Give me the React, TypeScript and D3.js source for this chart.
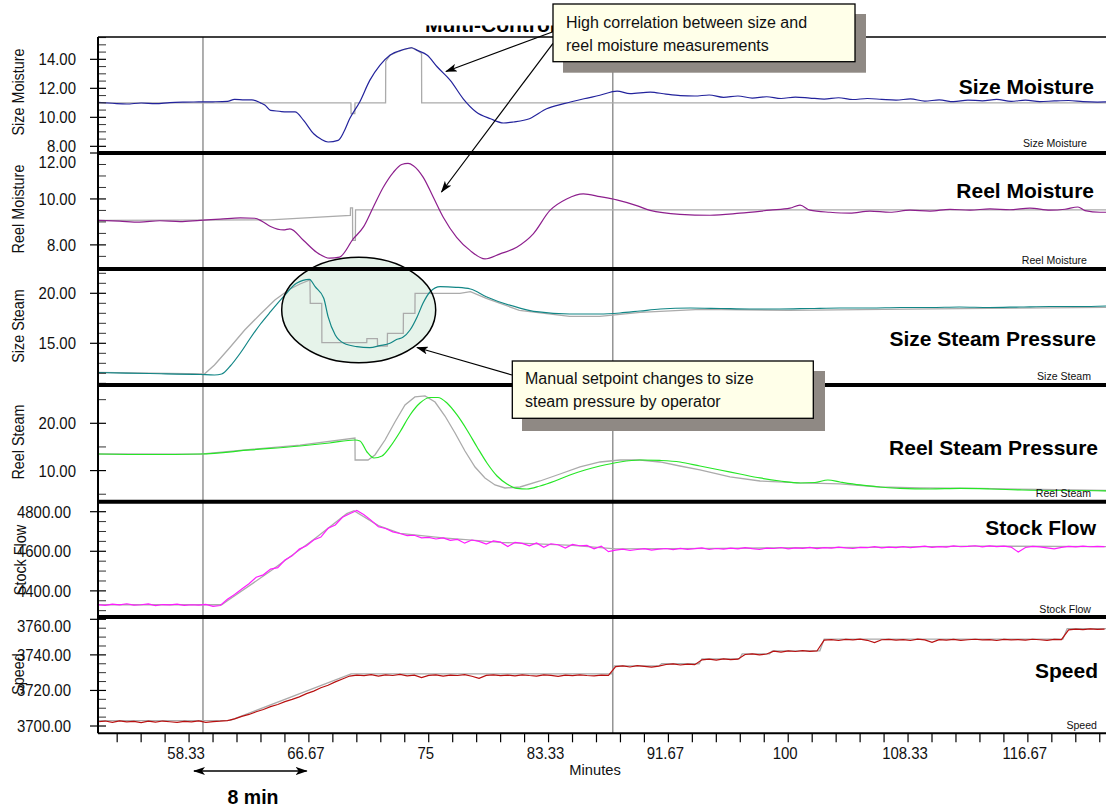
import React from "react";
import * as d3 from "d3";

type Pt = [number, number];

// ---------- time axis ----------
const timeDomain: [number, number] = [52, 122.1];
const minuteTickValues = [58.333, 66.667, 75, 83.333, 91.667, 100, 108.333, 116.667];
const minuteTickLabels = ["58.33", "66.67", "75", "83.33", "91.67", "100", "108.33", "116.67"];
const cursorMinutes = [59.3, 87.8];

// ---------- series (minutes, value) ----------
const sizeMoisture: Pt[] = [
  [52, 11.03], [53, 10.97], [54, 10.92], [55, 10.99], [56, 10.94], [57, 11.02], [58, 11.05], [59, 11.06],
  [60, 11.07], [61, 11.1], [61.5, 11.24], [62.2, 11.2], [62.7, 11.21], [63.3, 11.0], [63.6, 10.85], [64, 10.48],
  [64.6, 10.42], [65.1, 10.37], [65.7, 10.37], [66.3, 9.79], [67, 8.87], [67.5, 8.5], [68, 8.3], [68.7, 8.41],
  [69.1, 9.0], [69.5, 9.9], [70.2, 11.06], [70.9, 12.55], [71.6, 13.59], [72.3, 14.28], [73.2, 14.66], [73.8, 14.8],
  [74.2, 14.62], [74.9, 14.28], [75.6, 13.47], [76.5, 12.55], [77.4, 11.28], [78.3, 10.37], [79.3, 9.9], [80.2, 9.61],
  [80.9, 9.68], [82, 9.9], [83.2, 10.59], [84.4, 10.94], [85.8, 11.28], [86.9, 11.52], [88.1, 11.81], [89, 11.63],
  [90.4, 11.74], [91.5, 11.6], [92.5, 11.5], [93.5, 11.47], [94.5, 11.54], [95.5, 11.38], [96.5, 11.47], [97.5, 11.33],
  [98.5, 11.42], [99.5, 11.3], [100.5, 11.4], [101.5, 11.33], [102.5, 11.26], [103.5, 11.35], [104.5, 11.23], [105.5, 11.3],
  [106.5, 11.24], [107.5, 11.19], [108.5, 11.27], [109.5, 11.12], [110.5, 11.2], [111.5, 11.08], [112.5, 11.19], [113.5, 11.14],
  [114.5, 11.24], [115.5, 11.1], [116.5, 11.19], [117.5, 11.08], [118.5, 11.13], [119.5, 11.16], [120.5, 11.08], [121.5, 11.05],
  [122.1, 11.06],
];
const sizeMoistureSP: Pt[] = [
  [52, 11.0], [69.59, 11.0], [69.6, 10.25], [69.86, 10.25], [69.87, 11.0], [72.0, 11.0], [72.01, 13.85], [72.3, 14.28],
  [73.2, 14.66], [73.8, 14.8], [74.2, 14.62], [74.5, 14.4], [74.51, 11.0], [122.1, 11.0],
];

const reelMoisture: Pt[] = [
  [52, 9.07], [53.5, 9.03], [54.9, 8.99], [56.3, 9.05], [57.7, 9.01], [59.1, 9.07], [60.5, 9.12], [61.9, 9.18],
  [62.9, 9.16], [63.4, 9.03], [64, 8.8], [64.9, 8.65], [65.35, 8.7], [66.3, 8.19], [67.2, 7.68], [68.1, 7.42],
  [68.8, 7.47], [69.75, 8.26], [70.45, 8.77], [71.14, 9.64], [71.84, 10.51], [72.54, 11.16], [73.12, 11.5], [73.56, 11.55],
  [73.93, 11.45], [74.62, 10.94], [75.32, 10.07], [76.01, 9.2], [76.94, 8.33], [77.87, 7.76], [78.91, 7.39], [79.96, 7.61],
  [81.12, 7.9], [82.27, 8.48], [83.43, 9.5], [84.59, 10.0], [85.75, 10.22], [86.91, 10.1], [88.07, 9.96], [89.46, 9.71],
  [90.39, 9.5], [92.47, 9.33], [94.56, 9.29], [96.64, 9.38], [98.73, 9.51], [100.12, 9.6], [100.82, 9.73], [101.51, 9.51],
  [102.9, 9.42], [104.29, 9.38], [105.68, 9.47], [107.08, 9.42], [108.47, 9.51], [109.86, 9.47], [111.25, 9.55], [112.64, 9.51],
  [114.03, 9.57], [115.42, 9.53], [116.81, 9.6], [118.2, 9.51], [119.25, 9.55], [120.15, 9.65], [120.64, 9.49], [121.68, 9.42],
  [122.1, 9.42],
];
const reelMoistureSP: Pt[] = [
  [52, 9.07], [63.96, 9.09], [69.55, 9.28], [69.56, 9.61], [69.7, 9.61], [69.71, 8.2], [69.9, 8.2], [69.91, 9.52], [122.1, 9.52],
];

const sizeSteam: Pt[] = [
  [52, 12.08], [55.6, 11.98], [59.1, 11.88], [60.1, 11.83], [60.6, 11.93], [61.2, 12.73], [61.9, 14.03], [62.6, 15.53],
  [63.3, 16.93], [64, 18.16], [64.9, 19.66], [65.8, 21.0], [66.7, 21.4], [67.1, 20.66], [67.7, 19.5], [68, 17.66],
  [68.5, 15.83], [69.1, 15.0], [70, 14.66], [70.9, 14.56], [71.6, 14.76], [72.3, 15.0], [72.8, 15.4], [73.2, 15.6],
  [73.7, 16.33], [74.2, 17.66], [74.6, 19.0], [75.1, 20.16], [75.8, 20.66], [76.9, 20.6], [77.9, 20.43], [79, 19.66],
  [81.4, 18.5], [82.5, 18.16], [84.8, 17.93], [86.9, 17.93], [88.3, 18.03], [89.7, 18.23], [91.1, 18.43], [93.2, 18.53],
  [95.3, 18.48], [97.3, 18.43], [99.4, 18.43], [101.5, 18.48], [103.6, 18.53], [105.7, 18.53], [107.8, 18.58], [109.9, 18.58],
  [111.9, 18.63], [114, 18.58], [116.1, 18.63], [118.2, 18.68], [120.3, 18.68], [122.1, 18.73],
];
const sizeSteamSP: Pt[] = [
  [52, 12.1], [59.4, 11.93], [60.1, 12.83], [61.2, 14.63], [62.2, 16.33], [63.3, 17.93], [64.3, 19.33], [65.35, 20.43],
  [66.05, 20.93], [66.74, 21.33], [66.76, 19.0], [67.56, 19.0], [67.57, 15.06], [70.69, 15.06], [70.7, 15.46], [71.43, 15.46],
  [71.44, 14.73], [72.12, 14.73], [72.13, 16.0], [73.23, 16.0], [73.24, 18.0], [74.04, 18.0], [74.05, 20.0], [77.17, 20.0],
  [77.9, 20.16], [79.0, 19.5], [81.3, 18.3], [84.8, 17.7], [86.9, 17.7], [89.7, 18.1], [93.9, 18.4], [100, 18.3],
  [110, 18.45], [122.1, 18.6],
];

const reelSteam: Pt[] = [
  [52, 13.51], [55.6, 13.4], [59.1, 13.51], [62.6, 14.36], [66.05, 15.2], [68.1, 15.84], [69.87, 16.47], [70.22, 16.26],
  [70.71, 13.93], [71.19, 12.66], [71.75, 13.09], [72.31, 15.0], [73, 18.16], [73.7, 21.76], [74.39, 24.29], [75.09, 25.46],
  [75.64, 25.46], [76.27, 24.29], [76.97, 21.76], [77.66, 18.59], [78.36, 15.0], [79.05, 11.61], [79.75, 8.86], [80.44, 7.17],
  [81.14, 6.22], [81.83, 6.11], [82.74, 6.74], [83.78, 7.8], [84.82, 9.07], [85.87, 10.13], [86.91, 10.97], [88.3, 11.82],
  [89.69, 12.24], [91.08, 12.14], [92.47, 11.82], [93.86, 10.97], [95.25, 10.13], [96.64, 9.28], [98.04, 8.44], [99.43, 7.8],
  [100.82, 7.38], [101.86, 7.48], [102.76, 8.01], [103.6, 7.59], [104.99, 6.96], [106.38, 6.53], [107.77, 6.22], [109.86, 6.11],
  [111.94, 6.22], [114.03, 6.11], [116.12, 5.9], [118.2, 5.79], [120.29, 5.79], [122.1, 5.69],
];
const reelSteamSP: Pt[] = [
  [52, 13.51], [59.1, 13.5], [66.05, 15.4], [69.87, 16.89], [69.88, 12.24], [70.78, 12.24], [71.26, 13.3], [71.96, 16.47],
  [72.65, 20.27], [73.35, 23.87], [74.04, 25.58], [74.74, 25.79], [75.44, 24.5], [76.13, 21.54], [76.83, 17.95], [77.52, 14.14],
  [78.22, 10.76], [78.91, 8.44], [79.61, 6.96], [80.3, 6.32], [81.35, 6.53], [82.74, 7.8], [84.13, 9.28], [85.52, 10.76],
  [86.91, 11.82], [88.3, 12.24], [89.69, 12.24], [91.08, 11.82], [92.47, 10.97], [93.86, 10.13], [95.95, 8.65], [98.04, 7.8],
  [100.82, 7.38], [103.6, 7.17], [106.38, 6.53], [109.16, 6.32], [113.34, 6.22], [117.51, 6.0], [122.1, 5.79],
];

// sampled every half minute from 52 min
const sampleStart = 52;
const sampleStep = 0.5;
const stockFlowValues = [
  4331, 4327, 4333, 4329, 4335, 4328, 4330, 4334, 4326, 4331, 4329, 4333, 4327, 4330, 4328, 4332, 4322, 4326,
  4358, 4382, 4409, 4436, 4469, 4481, 4510, 4517, 4556, 4577, 4611, 4628, 4657, 4672, 4716, 4733, 4772, 4790,
  4806, 4785, 4756, 4724, 4715, 4698, 4690, 4679, 4681, 4668, 4670, 4662, 4668, 4655, 4660, 4641, 4657, 4650,
  4636, 4652, 4646, 4624, 4645, 4640, 4628, 4642, 4620, 4638, 4633, 4616, 4635, 4628, 4630, 4612, 4626, 4598,
  4606, 4611, 4604, 4609, 4613, 4606, 4611, 4614, 4608, 4615, 4610, 4613, 4617, 4609, 4614, 4611, 4616, 4612,
  4618, 4613, 4609, 4616, 4614, 4619, 4612, 4617, 4615, 4620, 4613, 4618, 4616, 4621, 4617, 4614, 4620, 4618,
  4623, 4617, 4621, 4619, 4624, 4618, 4622, 4626, 4620, 4624, 4621, 4627, 4623, 4625, 4628, 4622, 4627, 4624,
  4626, 4621, 4596, 4619, 4625, 4622, 4617, 4612, 4620, 4625, 4622, 4626, 4623, 4625, 4624,
];
const stockFlowSP: Pt[] = [
  [52, 4330], [60.6, 4330], [61, 4350], [64, 4500], [67, 4660], [69.3, 4790], [69.8, 4805], [71.5, 4730],
  [73, 4690], [76, 4668], [80, 4645], [85, 4630], [88, 4612], [95, 4615], [105, 4620], [113, 4626], [122.1, 4624],
];

const speedValues = [
  3702.4, 3702.8, 3702.1, 3702.9, 3702.3, 3702.6, 3701.9, 3702.7, 3702.2, 3702.8, 3702.4, 3702.0, 3702.6, 3702.3, 3702.9, 3702.1, 3702.5, 3702.7,
  3703.0, 3704.0, 3705.4, 3706.5, 3708.0, 3709.3, 3710.9, 3712.1, 3713.7, 3715.0, 3716.4, 3718.2, 3719.6, 3721.5, 3722.9, 3724.8, 3726.4, 3728.1, 3728.6,
  3728.3, 3728.9, 3728.1, 3728.7, 3728.4, 3729.0, 3728.2, 3728.6, 3727.2, 3728.5, 3728.8, 3728.1, 3728.6, 3728.4, 3728.9, 3728.0, 3726.8, 3728.5,
  3728.7, 3728.3, 3728.6, 3728.2, 3728.8, 3728.4, 3728.1, 3728.7, 3728.5, 3727.9, 3728.6, 3728.3, 3728.7, 3728.4, 3728.2, 3728.6, 3728.5,
  3733.4, 3733.8, 3733.2, 3733.9, 3733.5, 3733.1, 3733.7, 3734.6, 3734.9, 3734.3, 3734.8, 3734.5, 3737.2, 3737.6, 3737.1, 3737.8, 3737.3, 3737.6,
  3740.2, 3740.6, 3740.0, 3740.5, 3742.1, 3741.6, 3742.3, 3741.9, 3742.4, 3742.0, 3742.2, 3748.3, 3748.6, 3748.1, 3748.7, 3748.4, 3748.8, 3748.2,
  3746.9, 3748.5, 3748.7, 3748.3, 3748.6, 3748.1, 3748.8, 3748.4, 3747.0, 3748.6, 3748.3, 3748.7, 3748.2, 3748.5, 3748.8, 3748.4, 3748.6, 3748.1,
  3748.7, 3748.4, 3748.6, 3748.3, 3748.8, 3748.5, 3748.2, 3748.7, 3748.6, 3754.1, 3754.5, 3754.2, 3754.6, 3754.3, 3754.5,
];
const speedSP: Pt[] = [
  [52, 3703], [61.2, 3703.2], [69.6, 3729.3], [87.7, 3729.3], [87.9, 3733.8], [91.0, 3733.8], [91.2, 3735], [93.8, 3735],
  [94.0, 3737.8], [96.6, 3737.8], [96.8, 3740.6], [98.7, 3740.6], [98.9, 3742.3], [102.2, 3742.3], [102.5, 3748.9], [119.1, 3748.9],
  [119.4, 3754.8], [122.1, 3754.8],
];

const sampled = (values: number[]): Pt[] => values.map((v, i) => [sampleStart + i * sampleStep, v]);

// ---------- panel definitions ----------
interface Panel {
  title: string;
  axisTitle: string;
  tag: string;
  color: string;
  actual: Pt[];
  setpoint: Pt[];
  domain: [number, number];
  ticks: number[];
  minorStep: number;
  top: number;
  bottom: number;
  smooth: boolean;
  titleY: number;
  titleRight: number;
  tagY: number;
  tagRight: number;
  axisTitleX: number;
  axisTitleY: number;
}

const panels: Panel[] = [
  { title: "Size Moisture", axisTitle: "Size Moisture", tag: "Size Moisture", color: "#23239c",
    actual: sizeMoisture, setpoint: sizeMoistureSP, domain: [7.54, 15.54], ticks: [8, 10, 12, 14], minorStep: 0.5,
    top: 37, bottom: 153, smooth: true, titleY: 94, titleRight: 1094, tagY: 147, tagRight: 1087, axisTitleX: 18, axisTitleY: 92 },
  { title: "Reel Moisture", axisTitle: "Reel Moisture", tag: "Reel Moisture", color: "#8d1f8d",
    actual: reelMoisture, setpoint: reelMoistureSP, domain: [6.95, 12.0], ticks: [8, 10, 12], minorStep: 0.5,
    top: 153, bottom: 269, smooth: true, titleY: 198, titleRight: 1094, tagY: 264, tagRight: 1087, axisTitleX: 18, axisTitleY: 209 },
  { title: "Size Steam Pressure", axisTitle: "Size Steam", tag: "Size Steam", color: "#128686",
    actual: sizeSteam, setpoint: sizeSteamSP, domain: [10.83, 22.43], ticks: [15, 20], minorStep: 1,
    top: 269, bottom: 385, smooth: true, titleY: 346, titleRight: 1096, tagY: 380, tagRight: 1091, axisTitleX: 18, axisTitleY: 326 },
  { title: "Reel Steam Pressure", axisTitle: "Reel Steam", tag: "Reel Steam", color: "#26e626",
    actual: reelSteam, setpoint: reelSteamSP, domain: [3.42, 28.1], ticks: [10, 20], minorStep: 5,
    top: 385, bottom: 501.7, smooth: true, titleY: 455, titleRight: 1098, tagY: 497, tagRight: 1091, axisTitleX: 18, axisTitleY: 442 },
  { title: "Stock Flow", axisTitle: "Stock Flow", tag: "Stock Flow", color: "#ff1cff",
    actual: sampled(stockFlowValues), setpoint: stockFlowSP, domain: [4268, 4850.5], ticks: [4400, 4600, 4800], minorStep: 50,
    top: 501.7, bottom: 617, smooth: false, titleY: 535, titleRight: 1096, tagY: 613, tagRight: 1091, axisTitleX: 20, axisTitleY: 560 },
  { title: "Speed", axisTitle: "Speed", tag: "Speed", color: "#b81010",
    actual: sampled(speedValues), setpoint: speedSP, domain: [3695.9, 3761.3], ticks: [3700, 3720, 3740, 3760], minorStep: 5,
    top: 617, bottom: 733.3, smooth: false, titleY: 678, titleRight: 1098, tagY: 729, tagRight: 1097, axisTitleX: 18, axisTitleY: 674 },
];

const W = 1106;
const H = 809;
const plotLeft = 98;
const plotRight = 1106;
const plotTop = 37;
const plotBottom = 733.3;
const fmt = d3.format(".2f");
const FONT = "'Liberation Sans', Arial, Helvetica, sans-serif";

// narrow axis lettering
function AxisText(props: { x: number; y: number; anchor: string; size?: number; sx?: number; children: React.ReactNode }) {
  const { x, y, anchor, size = 17, sx = 0.88, children } = props;
  return (
    <text transform={`translate(${x},${y}) scale(${sx},1)`} textAnchor={anchor} fontSize={size} fill="#111">
      {children}
    </text>
  );
}

export default function App() {
  const x = d3.scaleLinear().domain(timeDomain).range([plotLeft, plotRight]);
  const minorMinutes = d3.range(0, 45).map((i) => 53.3333 + (i * 5) / 3).filter((t) => t < timeDomain[1]);

  return (
    <svg
      width={W}
      height={H}
      viewBox={`0 0 ${W} ${H}`}
      style={{ position: "absolute", left: 0, top: 0, background: "#fff" }}
      fontFamily={FONT}
    >
      <defs>
        {panels.map((p, i) => (
          <clipPath id={`panel-clip-${i}`} key={i}>
            <rect x={plotLeft} y={p.top} width={plotRight - plotLeft} height={p.bottom - p.top} />
          </clipPath>
        ))}
        <clipPath id="title-clip">
          <rect x={0} y={25.5} width={W} height={11} />
        </clipPath>
        <marker id="arrow-head" viewBox="0 0 12 8" refX={11} refY={4} markerWidth={12} markerHeight={8}
          markerUnits="userSpaceOnUse" orient="auto-start-reverse">
          <path d="M0,0 L12,4 L0,8 L3,4 Z" fill="#000" />
        </marker>
      </defs>

      <rect x={0} y={0} width={W} height={H} fill="#fff" />

      {/* chart title, only its lower part shows below the page edge */}
      <text x={425} y={32} fontSize={21} fontWeight="bold" clipPath="url(#title-clip)" fill="#000">
        Multi-Control Variables
      </text>

      {/* highlighted region of the size steam panel */}
      <ellipse cx={358.7} cy={310} rx={77} ry={52.7} fill="#e6f3ea" />

      {/* cursor lines */}
      {cursorMinutes.map((m) => (
        <line key={m} x1={x(m)} x2={x(m)} y1={plotTop} y2={plotBottom} stroke="#8c8c8c" strokeWidth={1.4} />
      ))}

      {panels.map((p, i) => {
        const y = d3.scaleLinear().domain(p.domain).range([p.bottom, p.top]);
        const line = d3
          .line<Pt>()
          .x((d) => x(d[0]))
          .y((d) => y(d[1]))
          .curve(p.smooth ? d3.curveMonotoneX : d3.curveLinear);
        const spLine = d3
          .line<Pt>()
          .x((d) => x(d[0]))
          .y((d) => y(d[1]));
        const minors = d3
          .range(Math.ceil(p.domain[0] / p.minorStep) * p.minorStep, p.domain[1], p.minorStep)
          .filter((v) => !p.ticks.some((t) => Math.abs(t - v) < 1e-6));
        return (
          <g key={i}>
            <g clipPath={`url(#panel-clip-${i})`}>
              <path d={spLine(p.setpoint) || ""} fill="none" stroke="#ababab" strokeWidth={1.3} />
              <path d={line(p.actual) || ""} fill="none" stroke={p.color} strokeWidth={1.2} />
            </g>
            {/* y axis ticks */}
            {minors.map((v) => (
              <line key={`m${v}`} x1={plotLeft} x2={plotLeft + 8} y1={y(v)} y2={y(v)} stroke="#333" strokeWidth={1} />
            ))}
            {p.ticks.map((t) => {
              const label = fmt(t);
              return (
                <g key={`t${t}`}>
                  <line x1={plotLeft - 8} x2={plotLeft + 8} y1={y(t)} y2={y(t)} stroke="#000" strokeWidth={1.2} />
                  <AxisText x={label.length > 5 ? 71 : 76} y={Math.max(y(t), p.top + 9) + 6} anchor="end">
                    {label}
                  </AxisText>
                </g>
              );
            })}
            <text
              transform={`translate(${p.axisTitleX}, ${p.axisTitleY}) rotate(-90) scale(0.9,1)`}
              textAnchor="middle"
              dy="0.35em"
              fontSize={16}
              fill="#111"
            >
              {p.axisTitle}
            </text>
            <text x={p.titleRight} y={p.titleY} textAnchor="end" fontSize={21} fontWeight="bold" fill="#000">
              {p.title}
            </text>
            <AxisText x={p.tagRight} y={p.tagY} anchor="end" size={11.5} sx={0.92}>
              {p.tag}
            </AxisText>
          </g>
        );
      })}

      {/* panel separators and frame */}
      {panels.slice(1).map((p, i) => (
        <line key={i} x1={plotLeft} x2={plotRight} y1={p.top} y2={p.top} stroke="#000" strokeWidth={4} />
      ))}
      <line x1={plotLeft} x2={plotRight} y1={plotTop} y2={plotTop} stroke="#000" strokeWidth={1.5} />
      <line x1={plotLeft} x2={plotLeft} y1={plotTop} y2={plotBottom} stroke="#000" strokeWidth={2} />
      <line x1={plotLeft} x2={plotRight} y1={plotBottom} y2={plotBottom} stroke="#000" strokeWidth={2} />

      {/* time axis */}
      {minorMinutes.map((m) => (
        <line key={m} x1={x(m)} x2={x(m)} y1={plotBottom} y2={plotBottom + 9} stroke="#000" strokeWidth={1.2} />
      ))}
      {minuteTickValues.map((m, i) => (
        <AxisText key={m} x={x(m) - 3} y={759} anchor="middle">
          {minuteTickLabels[i]}
        </AxisText>
      ))}
      <AxisText x={595} y={775} anchor="middle" size={15.5} sx={0.95}>
        Minutes
      </AxisText>

      {/* 8 minute span marker */}
      <line x1={194} x2={306.7} y1={771} y2={771} stroke="#000" strokeWidth={1.3}
        markerStart="url(#arrow-head)" markerEnd="url(#arrow-head)" />
      <text x={253} y={804} textAnchor="middle" fontSize={19.5} fontWeight="bold" fill="#000">
        8 min
      </text>

      {/* ellipse outline */}
      <ellipse cx={358.7} cy={310} rx={77} ry={52.7} fill="none" stroke="#000" strokeWidth={1.5} />

      {/* callout: moisture */}
      <line x1={553} y1={31.7} x2={446} y2={71.5} stroke="#000" strokeWidth={1.2} markerEnd="url(#arrow-head)" />
      <line x1={553} y1={43.3} x2={441.5} y2={192} stroke="#000" strokeWidth={1.2} markerEnd="url(#arrow-head)" />
      <rect x={563} y={14} width={303} height={58.7} fill="#8f8984" />
      <rect x={553} y={4} width={302} height={57.7} fill="#ffffe9" stroke="#000" strokeWidth={1.3} />
      <text x={566} y={28} fontSize={16} fill="#111">High correlation between size and</text>
      <text x={566} y={51} fontSize={16} fill="#111">reel moisture measurements</text>

      {/* callout: steam setpoints */}
      <line x1={512} y1={375} x2={417} y2={347.5} stroke="#000" strokeWidth={1.2} markerEnd="url(#arrow-head)" />
      <rect x={522} y={371} width={303} height={60} fill="#8f8984" />
      <rect x={512.3} y={361} width={301} height={57.3} fill="#ffffe9" stroke="#000" strokeWidth={1.3} />
      <text x={525} y={384} fontSize={16} fill="#111">Manual setpoint changes to size</text>
      <text x={525} y={407} fontSize={16} fill="#111">steam pressure by operator</text>
    </svg>
  );
}
